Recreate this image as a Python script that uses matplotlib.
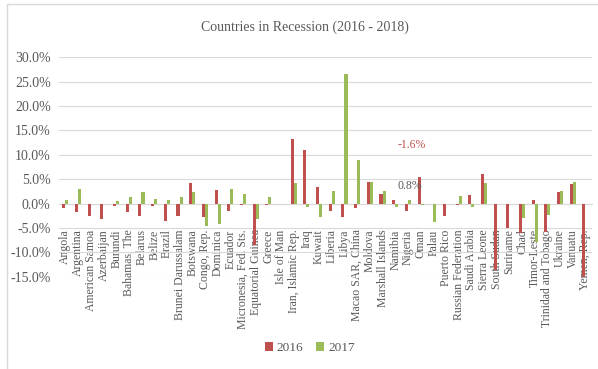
import numpy as np
import matplotlib
matplotlib.use("Agg")
import matplotlib.pyplot as plt
from matplotlib.patches import Rectangle

plt.rcParams['font.family'] = ['Liberation Serif', 'DejaVu Serif']

# data (growth, %)
countries = ['Angola', 'Argentina', 'American Samoa', 'Azerbaijan', 'Burundi',
             'Bahamas, The', 'Belarus', 'Belize', 'Brazil', 'Brunei Darussalam',
             'Botswana', 'Congo, Rep.', 'Dominica', 'Ecuador',
             'Micronesia, Fed. Sts.', 'Equatorial Guinea', 'Greece', 'Isle of Man',
             'Iran, Islamic Rep.', 'Iraq', 'Kuwait', 'Liberia', 'Libya',
             'Macao SAR, China', 'Moldova', 'Marshall Islands', 'Namibia',
             'Nigeria', 'Oman', 'Palau', 'Puerto Rico', 'Russian Federation',
             'Saudi Arabia', 'Sierra Leone', 'South Sudan', 'Suriname', 'Chad',
             'Timor-Leste', 'Trinidad and Tobago', 'Ukraine', 'Vanuatu',
             'Yemen, Rep.']
y2016 = [-0.9, -1.8, -2.6, -3.1, -0.5, -1.7, -2.5, -0.5, -3.5, -2.5,
         4.2, -2.8, 2.7, -1.5, -0.2, -8.5, -0.2, 0.0,
         13.3, 10.9, 3.4, -1.5, -2.7, -0.9, 4.4, 1.9, 0.8,
         -1.6, 5.4, 0.0, -2.6, -0.3, 1.7, 6.1, -13.7, -5.1, -6.0,
         0.7, -5.8, 2.3, 4.0, -15.1]
y2017 = [0.7, 2.9, 0.0, 0.0, 0.5, 1.4, 2.3, 0.9, 0.8, 1.4,
         2.3, -4.6, -4.2, 2.9, 2.0, -3.1, 1.4, 0.0,
         4.3, -0.7, -2.7, 2.5, 26.6, 9.0, 4.4, 2.5, -0.7,
         0.8, -0.2, -3.7, 0.0, 1.5, -0.7, 4.2, 0.0, 0.0, -2.9,
         -7.8, -2.3, 2.5, 4.4, 0.0]

red = '#C0504D'
green = '#9BBB59'
gray = '#595959'

fig = plt.figure(figsize=(5.98, 3.69), dpi=100)
ax = fig.add_axes([0.0987, 0.25, 0.891, 0.595])

x = np.arange(len(countries))
w = 0.24
ax.bar(x - w / 2, y2016, w, color=red, label='2016', zorder=3)
ax.bar(x + w / 2, y2017, w, color=green, label='2017', zorder=3)

ax.set_xlim(-0.5, len(countries) - 0.5)
ax.set_ylim(-15, 30)
ax.set_yticks(np.arange(-15, 31, 5))
ax.set_yticklabels([f'{v:.1f}%' for v in np.arange(-15, 31, 5)])
ax.yaxis.grid(True, color='#D9D9D9', linewidth=0.8, zorder=0)
ax.set_axisbelow(True)

for s in ['top', 'right', 'left']:
    ax.spines[s].set_visible(False)
ax.spines['bottom'].set_position(('data', 0))
ax.spines['bottom'].set_color('#D9D9D9')
ax.spines['bottom'].set_zorder(2)

ax.set_xticks(x)
ax.set_xticklabels(countries, rotation=90, fontsize=8.5, color=gray)
ax.tick_params(axis='x', length=0, pad=18.5)
ax.tick_params(axis='y', length=0, labelsize=10, labelcolor=gray, pad=6)

# floating data labels for Nigeria
ni = countries.index('Nigeria')
ax.text(ni + 0.3, 12.0, f'{y2016[ni]:.1f}%', color=red, fontsize=8.5,
        ha='center', va='center')
ax.text(ni + 0.15, 3.7, f'{y2017[ni]:.1f}%', color=gray, fontsize=8.5,
        ha='center', va='center')

fig.text(0.51, 0.925, 'Countries in Recession (2016 - 2018)', ha='center',
         va='center', fontsize=10, color=gray)

fig.legend(loc='center', bbox_to_anchor=(0.518, 0.057), ncol=2, frameon=False,
           fontsize=9.5, handlelength=0.6, handleheight=0.6, handletextpad=0.3,
           columnspacing=1.0, labelcolor=gray)

fig.patches.append(Rectangle((7 / 598, -0.05), 1.1, 1.05 - 4 / 369,
                             transform=fig.transFigure, fill=False,
                             edgecolor='#D9D9D9', linewidth=1))

fig.savefig('out.png', dpi=100)
